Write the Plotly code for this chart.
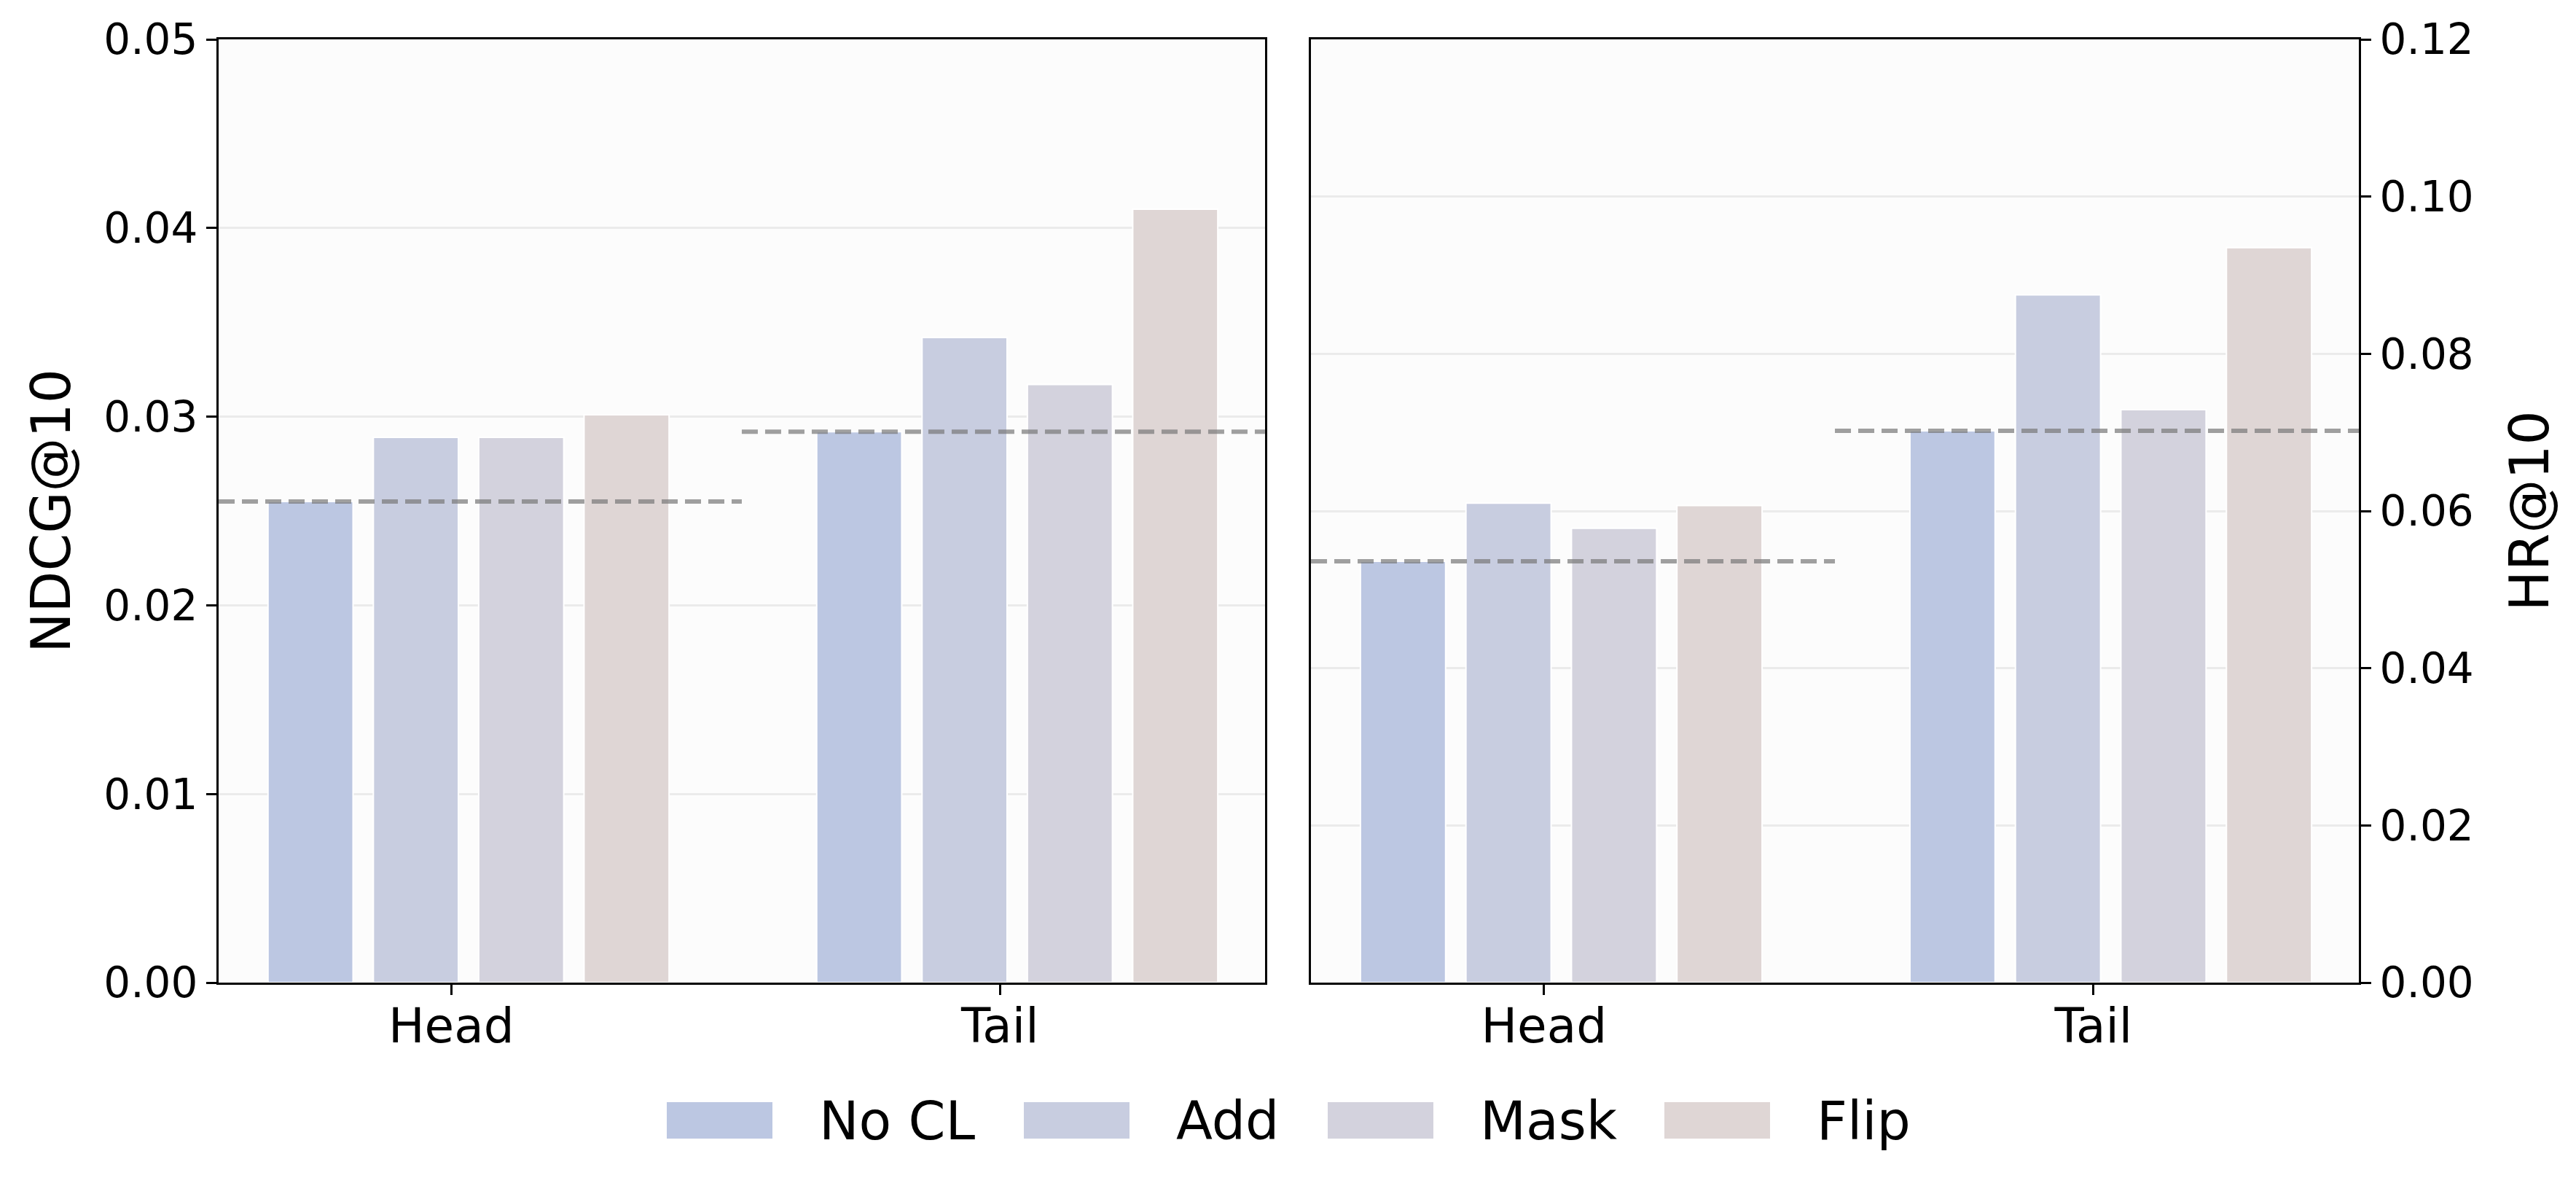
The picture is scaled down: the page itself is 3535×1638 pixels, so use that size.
import plotly.graph_objects as go

# ---------------- data ----------------
groups = ["Head", "Tail"]
methods = ["No CL", "Add", "Mask", "Flip"]

ndcg_nocl = [0.0255, 0.0292]
ndcg_add = [0.0289, 0.0342]
ndcg_mask = [0.0289, 0.0317]
ndcg_flip = [0.0301, 0.0410]

hr_nocl = [0.0536, 0.0702]
hr_add = [0.0610, 0.0875]
hr_mask = [0.0578, 0.0729]
hr_flip = [0.0607, 0.0935]

ndcg_ticks = [0.00, 0.01, 0.02, 0.03, 0.04, 0.05]
hr_ticks = [0.00, 0.02, 0.04, 0.06, 0.08, 0.10, 0.12]

# ---------------- style ----------------
colors = ["#BCC7E2", "#C8CDE0", "#D3D2DD", "#DFD6D5"]
bar_width = 0.155
bar_step = 0.192
first_offset = -0.334
FONT = "DejaVu Sans"

W, H = 3535, 1638
ML, MR, MT, MB = 300, 298, 54, 290

fig = go.Figure()

ndcg_series = [ndcg_nocl, ndcg_add, ndcg_mask, ndcg_flip]
hr_series = [hr_nocl, hr_add, hr_mask, hr_flip]

for i, (name, vals) in enumerate(zip(methods, ndcg_series)):
    fig.add_trace(go.Bar(
        x=groups, y=vals, name=name, xaxis="x", yaxis="y",
        width=bar_width, offset=first_offset + i * bar_step,
        marker=dict(color=colors[i], line=dict(color="white", width=2)),
        showlegend=False,
    ))
for i, (name, vals) in enumerate(zip(methods, hr_series)):
    fig.add_trace(go.Bar(
        x=groups, y=vals, name=name, xaxis="x2", yaxis="y2",
        width=bar_width, offset=first_offset + i * bar_step,
        marker=dict(color=colors[i], line=dict(color="white", width=2)),
        showlegend=False,
    ))

# baseline dashed lines (No CL value), each spanning half of the panel
dash_line = dict(color="rgba(120,120,120,0.7)", width=6, dash="22px,10px")
for xa, ya, base in [("x", "y", ndcg_nocl), ("x2", "y2", hr_nocl)]:
    for g in range(len(groups)):
        fig.add_shape(type="line", xref=f"{xa} domain", yref=ya,
                      x0=g / len(groups), x1=(g + 1) / len(groups),
                      y0=base[g], y1=base[g], line=dash_line, layer="above")

# ---------------- manual legend ----------------
plot_w = W - ML - MR
plot_h = H - MT - MB
def px_x(px):
    return (px - ML) / plot_w
def px_y(py):
    return (H - MB - py) / plot_h

legend_patch_x = [915, 1405, 1822, 2284]
patch_w, patch_top, patch_bot = 145, 1512, 1562
text_gap = 62
for i, name in enumerate(methods):
    x0 = legend_patch_x[i]
    fig.add_shape(type="rect", xref="paper", yref="paper",
                  x0=px_x(x0), x1=px_x(x0 + patch_w),
                  y0=px_y(patch_bot), y1=px_y(patch_top),
                  fillcolor=colors[i], line=dict(width=0), layer="above")
    fig.add_annotation(xref="paper", yref="paper",
                       x=px_x(x0 + patch_w + text_gap), y=px_y((patch_top + patch_bot) / 2),
                       text=name, showarrow=False, xanchor="left", yanchor="middle",
                       font=dict(family=FONT, size=73, color="black"))

axis_common = dict(
    showline=True, linecolor="black", linewidth=3, mirror=True,
    ticks="outside", ticklen=14, tickwidth=3, tickcolor="black",
    layer="above traces",
)

fig.update_layout(
    width=W, height=H,
    margin=dict(l=ML, r=MR, t=MT, b=MB),
    paper_bgcolor="white", plot_bgcolor="#fcfcfc",
    barmode="overlay",
    font=dict(family=FONT, color="black"),
    xaxis=dict(domain=[0, 0.4889], anchor="y", type="category",
               categoryorder="array", categoryarray=groups,
               range=[-0.424, 1.483], showgrid=False,
               tickfont=dict(size=66), ticklabelstandoff=-14, **axis_common),
    yaxis=dict(anchor="x", range=[0, 0.05], tickvals=ndcg_ticks, tickformat=".2f",
               showgrid=True, gridcolor="#ebebeb", gridwidth=3, zeroline=False,
               tickfont=dict(size=58),
               title=dict(text="NDCG@10", font=dict(size=74), standoff=22),
               **axis_common),
    xaxis2=dict(domain=[0.5104, 1], anchor="y2", type="category",
                categoryorder="array", categoryarray=groups,
                range=[-0.424, 1.483], showgrid=False,
                tickfont=dict(size=66), ticklabelstandoff=-14, **axis_common),
    yaxis2=dict(anchor="x2", side="right", range=[0, 0.12], tickvals=hr_ticks, tickformat=".2f",
                showgrid=True, gridcolor="#ebebeb", gridwidth=3, zeroline=False,
                tickfont=dict(size=58),
                title=dict(text="HR@10", font=dict(size=74), standoff=52),
                **axis_common),
)

fig.write_html("out.html", config={"displayModeBar": False},
               post_script="document.body.style.margin='0';document.body.style.overflow='hidden';")
